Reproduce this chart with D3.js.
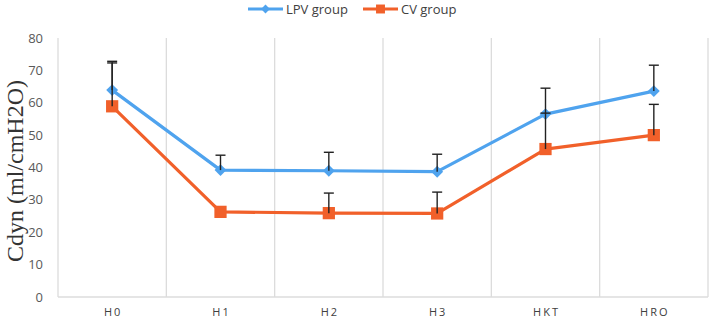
<!DOCTYPE html>
<html>
<head>
<meta charset="utf-8">
<script src="https://cdn.jsdelivr.net/npm/d3@7.9.0/dist/d3.min.js"></script>
<style>
  body { margin: 0; background: #fff; }
  svg { display: block; }
</style>
</head>
<body>
<svg id="chart" width="709" height="320"></svg>
<script>
// ===== data =====
const categories = ['H0', 'H1', 'H2', 'H3', 'HKT', 'HRO'];
const lpvValues = [63.9, 39.2, 39.0, 38.7, 56.5, 63.6];
const lpvErrTop = [72.8, 43.8, 44.7, 44.1, 64.5, 71.6];
const cvValues = [58.9, 26.3, 25.9, 25.8, 45.7, 50.0];
const cvErrTop = [72.3, null, 32.1, 32.4, 56.8, 59.5];
const yTicks = [0, 10, 20, 30, 40, 50, 60, 70, 80];

const series = [
  { name: 'LPV group', values: lpvValues, err: lpvErrTop, color: '#4fa3ee', marker: 'diamond' },
  { name: 'CV group', values: cvValues, err: cvErrTop, color: '#f1602a', marker: 'square' }
];

const svg = d3.select('#chart');
const plotL = 58, plotR = 708, plotT = 38, plotB = 297;

const x = d3.scaleBand().domain(categories).range([plotL, plotR]);
const y = d3.scaleLinear().domain([0, 80]).range([plotB, plotT]);

// ===== grid =====
const bounds = categories.map(c => x(c)).concat([plotR]);
svg.append('g').selectAll('line')
  .data(bounds)
  .join('line')
  .attr('x1', d => d).attr('x2', d => d)
  .attr('y1', plotT).attr('y2', plotB)
  .attr('stroke', '#dcdcdc').attr('stroke-width', 1.3);

svg.append('line')
  .attr('x1', plotL).attr('x2', plotR)
  .attr('y1', plotB).attr('y2', plotB)
  .attr('stroke', '#dcdcdc').attr('stroke-width', 1.3);

// ===== y tick labels =====
svg.append('g').selectAll('text')
  .data(yTicks)
  .join('text')
  .attr('x', 43)
  .attr('y', d => y(d))
  .attr('dy', '0.35em')
  .attr('text-anchor', 'end')
  .attr('font-family', 'Open Sans, sans-serif')
  .attr('font-size', 13)
  .attr('fill', '#595959')
  .text(d => d);

// ===== x labels =====
svg.append('g').selectAll('text')
  .data(categories)
  .join('text')
  .attr('x', d => x(d) + x.bandwidth() / 2 + 1)
  .attr('y', 316)
  .attr('text-anchor', 'middle')
  .attr('font-family', 'Open Sans, sans-serif')
  .attr('font-size', 11)
  .attr('letter-spacing', '2px')
  .attr('fill', '#404040')
  .text(d => d);

// ===== y title =====
svg.append('text')
  .attr('transform', `translate(23,171) rotate(-90)`)
  .attr('text-anchor', 'middle')
  .attr('font-family', 'Liberation Serif, serif')
  .attr('font-size', 24)
  .attr('fill', '#333')
  .text('Cdyn (ml/cmH2O)');

const cx = c => x(c) + x.bandwidth() / 2;

// ===== lines =====
const line = d3.line().x(d => cx(d.cat)).y(d => y(d.v));

series.forEach(s => {
  const pts = categories.map((c, i) => ({ cat: c, v: s.values[i] }));
  svg.append('path')
    .datum(pts)
    .attr('d', line)
    .attr('fill', 'none')
    .attr('stroke', s.color)
    .attr('stroke-width', 3.2)
    .attr('stroke-linejoin', 'round');
});

// ===== markers =====
const diamond = d3.symbol().type(d3.symbolDiamond2).size(90);
const square = d3.symbol().type(d3.symbolSquare).size(150);

series.forEach(s => {
  svg.append('g').selectAll('path')
    .data(categories.map((c, i) => ({ cat: c, v: s.values[i] })))
    .join('path')
    .attr('transform', d => `translate(${cx(d.cat)},${y(d.v)})`)
    .attr('d', s.marker === 'diamond' ? diamond : square)
    .attr('fill', s.color);
});

// ===== error bars (upper) =====
series.forEach(s => {
  const eb = categories.map((c, i) => ({ cat: c, v: s.values[i], e: s.err[i] }))
    .filter(d => d.e != null);
  const g = svg.append('g').attr('stroke', '#222').attr('stroke-width', 1.4);
  g.selectAll('line.v')
    .data(eb)
    .join('line')
    .attr('class', 'v')
    .attr('x1', d => cx(d.cat)).attr('x2', d => cx(d.cat))
    .attr('y1', d => y(d.v)).attr('y2', d => y(d.e));
  g.selectAll('line.c')
    .data(eb)
    .join('line')
    .attr('class', 'c')
    .attr('x1', d => cx(d.cat) - 5).attr('x2', d => cx(d.cat) + 5)
    .attr('y1', d => y(d.e)).attr('y2', d => y(d.e));
});

// ===== legend =====
const legend = svg.append('g').attr('transform', 'translate(248,9)');
const legendX = [0, 115];
series.forEach((s, i) => {
  const g = legend.append('g').attr('transform', `translate(${legendX[i]},0)`);
  g.append('line')
    .attr('x1', 0).attr('x2', 35)
    .attr('y1', 0).attr('y2', 0)
    .attr('stroke', s.color).attr('stroke-width', 3.2);
  g.append('path')
    .attr('transform', 'translate(17.5,0)')
    .attr('d', s.marker === 'diamond' ? d3.symbol().type(d3.symbolDiamond2).size(50)()
                                      : d3.symbol().type(d3.symbolSquare).size(80)())
    .attr('fill', s.color);
  g.append('text')
    .attr('x', 38).attr('y', 0)
    .attr('dy', '0.35em')
    .attr('font-family', 'Open Sans, sans-serif')
    .attr('font-size', 13)
    .attr('fill', '#404040')
    .text(s.name);
});
</script>
</body>
</html>
